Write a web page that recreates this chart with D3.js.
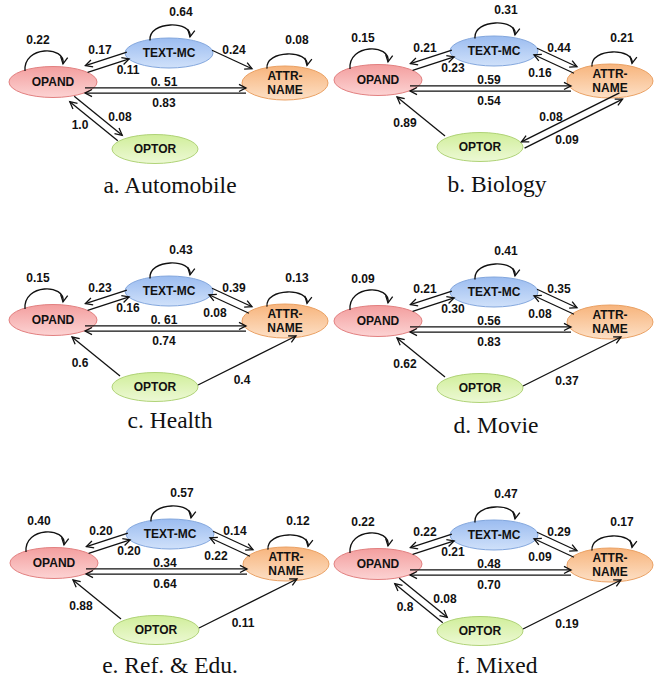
<!DOCTYPE html>
<html><head><meta charset="utf-8">
<script src="https://cdn.jsdelivr.net/npm/d3@7"></script>
<style>body{margin:0;background:#fff}</style>
</head><body><svg id="chart" width="669" height="685"></svg>
<script>
// ---------- DATA ----------
const panelTitles = ["a. Automobile", "b. Biology", "c. Health", "d. Movie", "e. Ref. & Edu.", "f. Mixed"];
const nodeIds = ["OPAND", "TEXT", "ATTR", "OPTOR"];
const nodeLabels = [["OPAND"], ["TEXT-MC"], ["ATTR-", "NAME"], ["OPTOR"]];
const transitions = ["OPAND>OPAND", "TEXT>TEXT", "ATTR>ATTR", "TEXT>OPAND", "OPAND>TEXT", "TEXT>ATTR", "ATTR>TEXT",
  "OPAND>ATTR", "ATTR>OPAND", "OPAND>OPTOR", "OPTOR>OPAND", "ATTR>OPTOR", "OPTOR>ATTR"];
const probAutomobile = ["0.22", "0.64", "0.08", "0.17", "0.11", "0.24", null, "0. 51", "0.83", "0.08", "1.0", null, null];
const probBiology    = ["0.15", "0.31", "0.21", "0.21", "0.23", "0.44", "0.16", "0.59", "0.54", null, "0.89", "0.08", "0.09"];
const probHealth     = ["0.15", "0.43", "0.13", "0.23", "0.16", "0.39", "0.08", "0. 61", "0.74", null, "0.6", null, "0.4"];
const probMovie      = ["0.09", "0.41", null, "0.21", "0.30", "0.35", "0.08", "0.56", "0.83", null, "0.62", null, "0.37"];
const probRefEdu     = ["0.40", "0.57", "0.12", "0.20", "0.20", "0.14", "0.22", "0.34", "0.64", null, "0.88", null, "0.11"];
const probMixed      = ["0.22", "0.47", "0.17", "0.22", "0.21", "0.29", "0.09", "0.48", "0.70", "0.08", "0.8", null, "0.19"];
const panelValues = [probAutomobile, probBiology, probHealth, probMovie, probRefEdu, probMixed];

// ---------- LAYOUT ----------
const panelOrigin = [[53, 82], [378, 80], [53, 320], [378, 321], [54, 563], [378, 564]];
const captionPos = [[170, 193], [497, 192], [170, 428], [496, 433], [170, 673], [497, 673]];
const nodePos = {OPAND: [0, 0], TEXT: [116, -29], ATTR: [232, 1], OPTOR: [102, 67]};
const nodeSize = {OPAND: [44, 15.5], TEXT: [44, 15], ATTR: [43, 17], OPTOR: [43, 14.5]};
const nodeColors = {
  OPAND: ["#f39e9e", "#fcd3d3", "#e28080"],
  TEXT: ["#9bbcf0", "#d0e1fa", "#82a6dd"],
  ATTR: ["#f7b47c", "#fde0c6", "#eaa164"],
  OPTOR: ["#d0ee9a", "#edf9d5", "#b0d378"]
};
const loopGeom = {
  OPAND: {sx: -28, ex: 10, peak: -31, lx: -15, ly: -42},
  TEXT: {sx: -19, ex: 21, peak: -28, lx: 12, ly: -41},
  ATTR: {sx: -18, ex: 22, peak: -29, lx: 12, ly: -43}
};
const pairs = [
  {a: "OPAND", b: "ATTR", pa: [32, 8.5], pb: [193, 8.5], off: 2.6, single: 2.6},
  {a: "OPAND", b: "TEXT", pa: [33.5, -13], pb: [75, -26.5], off: -3.6, single: -3.6},
  {a: "TEXT", b: "ATTR", pa: [157.5, -28.5], pb: [197.5, -10], off: 3.6, single: 3.6},
  {a: "OPAND", b: "OPTOR", pa: [19, 17], pb: [67, 56], off: 3.5, single: 0},
  {a: "ATTR", b: "OPTOR", pa: [243, 16], pb: [145, 65], off: -3.5, single: 0}
];
const labelPos = {
  "TEXT>OPAND": [47, -32], "OPAND>TEXT": [75, -12], "TEXT>ATTR": [181, -32], "ATTR>TEXT": [162, -7],
  "OPAND>ATTR": [111, 0], "ATTR>OPAND": [111, 21], "OPAND>OPTOR": [67, 35], "OPTOR>OPAND": [27, 43],
  "ATTR>OPTOR": [173, 37], "OPTOR>ATTR": [189, 60]
};

// ---------- DRAW ----------
const svg = d3.select("#chart");
const defs = svg.append("defs");
defs.append("marker").attr("id", "arr").attr("markerUnits", "userSpaceOnUse")
  .attr("viewBox", "-8 -5 10 10").attr("refX", 0).attr("refY", 0)
  .attr("markerWidth", 10).attr("markerHeight", 10).attr("orient", "auto")
  .append("path").attr("d", "M-7,-3.6 L0,0 L-7,3.6").attr("fill", "none")
  .attr("stroke", "#111").attr("stroke-width", 1.3);
nodeIds.forEach(id => {
  const g = defs.append("linearGradient").attr("id", "g-" + id).attr("x1", 0).attr("y1", 0).attr("x2", 0).attr("y2", 1);
  g.append("stop").attr("offset", "0%").attr("stop-color", nodeColors[id][0]);
  g.append("stop").attr("offset", "100%").attr("stop-color", nodeColors[id][1]);
});

const fontSans = "'Liberation Sans', Arial, sans-serif";

panelValues.forEach((vals, pi) => {
  const [ox, oy] = panelOrigin[pi];
  const g = svg.append("g").attr("transform", `translate(${ox},${oy})`);
  const P = id => nodePos[id];

  // nodes
  const nodes = g.append("g").selectAll("g").data(nodeIds).join("g")
    .attr("transform", d => `translate(${P(d)[0]},${P(d)[1]})`);
  nodes.append("ellipse").attr("rx", d => nodeSize[d][0]).attr("ry", d => nodeSize[d][1])
    .attr("fill", d => `url(#g-${d})`).attr("stroke", d => nodeColors[d][2]).attr("stroke-width", 1);
  nodes.each(function (d, i) {
    const lines = nodeLabels[i];
    const t = d3.select(this).append("text").attr("text-anchor", "middle")
      .attr("font-family", fontSans).attr("font-weight", "bold").attr("font-size", 12).attr("fill", "#111");
    lines.forEach((s, k) => {
      t.append("tspan").attr("x", 0).attr("y", (k - (lines.length - 1) / 2) * 14 + 4.3).text(s);
    });
  });

  const edges = transitions.map((t, i) => ({key: t, from: t.split(">")[0], to: t.split(">")[1], label: vals[i]}))
    .filter(e => e.label !== null);
  const has = k => edges.some(e => e.key === k);
  const eg = g.append("g");
  const lg = g.append("g").attr("font-family", fontSans).attr("font-weight", "bold")
    .attr("font-size", 12).attr("fill", "#111").attr("text-anchor", "middle");

  edges.forEach(e => {
    if (e.from === e.to) {
      const n = e.from, L = loopGeom[n], [rx, ry] = nodeSize[n], [cx, cy] = P(n);
      const ys = -ry * Math.sqrt(1 - (L.sx / rx) ** 2) + 1;
      const ye = -ry * Math.sqrt(1 - (L.ex / rx) ** 2) - 3;
      const c = (L.peak - (ys + ye) / 8) / 0.75;
      const path = d3.path();
      path.moveTo(cx + L.sx, cy + ys);
      path.bezierCurveTo(cx + L.sx - 2, cy + c, cx + L.ex + 3, cy + c, cx + L.ex, cy + ye);
      eg.append("path").attr("d", path.toString()).attr("fill", "none").attr("stroke", "#111")
        .attr("stroke-width", 1.3).attr("marker-end", "url(#arr)");
      lg.append("text").attr("x", cx + L.lx).attr("y", cy + L.ly).attr("dy", "0.35em").text(e.label);
    } else {
      const pr = pairs.find(p => (p.a === e.from && p.b === e.to) || (p.a === e.to && p.b === e.from));
      const fwd = pr.a === e.from;
      const both = has(e.to + ">" + e.from);
      const dx = pr.pb[0] - pr.pa[0], dy = pr.pb[1] - pr.pa[1], len = Math.hypot(dx, dy);
      const nx = dy / len, ny = -dx / len;
      const o = (both ? pr.off : pr.single) * (fwd ? 1 : -1);
      const s = fwd ? pr.pa : pr.pb, t = fwd ? pr.pb : pr.pa;
      eg.append("line")
        .attr("x1", s[0] + nx * o).attr("y1", s[1] + ny * o)
        .attr("x2", t[0] + nx * o).attr("y2", t[1] + ny * o)
        .attr("stroke", "#111").attr("stroke-width", 1.3).attr("marker-end", "url(#arr)");
      const lp = labelPos[e.key];
      lg.append("text").attr("x", lp[0]).attr("y", lp[1]).attr("dy", "0.35em").text(e.label);
    }
  });

  svg.append("text").attr("x", captionPos[pi][0]).attr("y", captionPos[pi][1])
    .attr("text-anchor", "middle").attr("font-family", "'Liberation Serif', 'Times New Roman', serif")
    .attr("font-size", 23.5).attr("fill", "#111").text(panelTitles[pi]);
});
</script></body></html>
